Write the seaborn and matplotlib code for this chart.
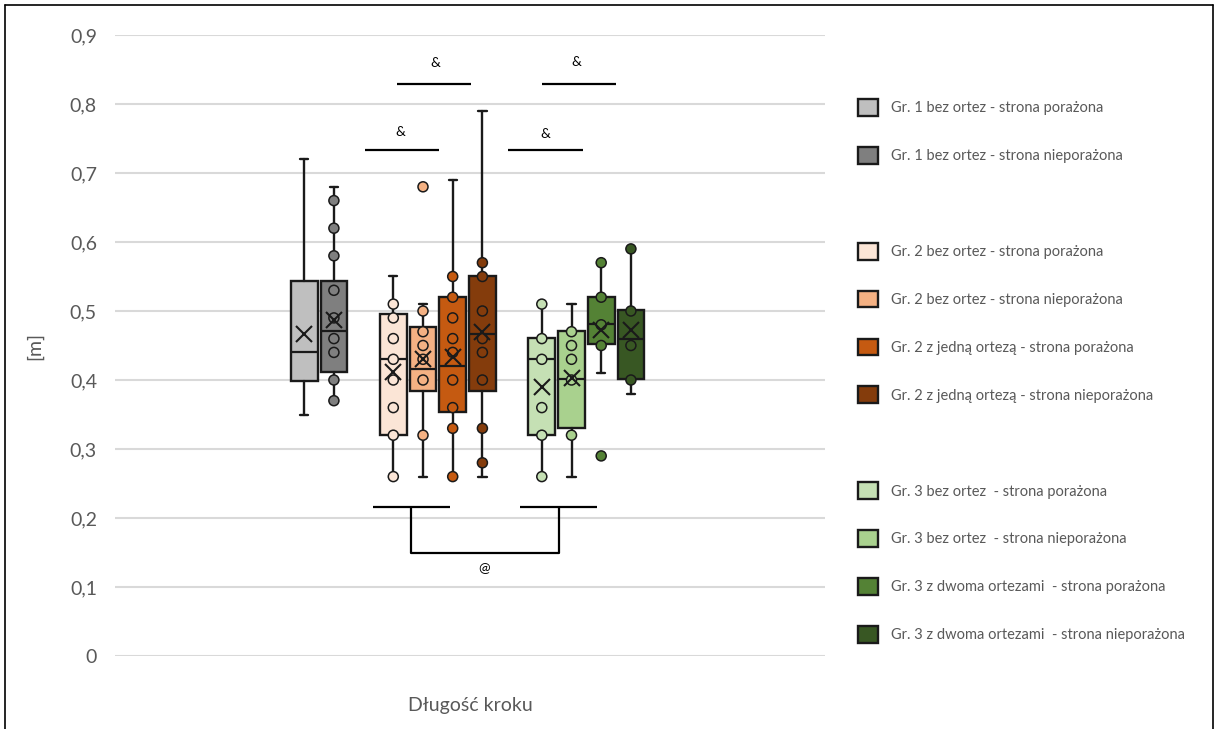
import numpy as np
import pandas as pd
import matplotlib
matplotlib.use("Agg")
import matplotlib.pyplot as plt
from matplotlib.patches import Patch
from matplotlib.lines import Line2D
import seaborn as sns

# ---- data -------------------------------------------------------------
labels = [
    "Gr. 1 bez ortez - strona porażona",
    "Gr. 1 bez ortez - strona nieporażona",
    "Gr. 2 bez ortez - strona porażona",
    "Gr. 2 bez ortez - strona nieporażona",
    "Gr. 2 z jedną ortezą - strona porażona",
    "Gr. 2 z jedną ortezą - strona nieporażona",
    "Gr. 3 bez ortez  - strona porażona",
    "Gr. 3 bez ortez  - strona nieporażona",
    "Gr. 3 z dwoma ortezami  - strona porażona",
    "Gr. 3 z dwoma ortezami  - strona nieporażona",
]
colors = ["#BFBFBF", "#7F7F7F",
          "#FBE5D6", "#F4B183", "#C55A11", "#843C0C",
          "#C5E0B4", "#A9D18E", "#548235", "#385723"]

# box statistics per series
whisker_low = [0.35, 0.37, 0.26, 0.26, 0.26, 0.26, 0.26, 0.26, 0.41, 0.38]
quartile_1 = [0.399, 0.411, 0.321, 0.384, 0.353, 0.384, 0.321, 0.331, 0.452, 0.401]
medians = [0.441, 0.471, 0.431, 0.416, 0.421, 0.466, 0.431, 0.401, 0.481, 0.460]
quartile_3 = [0.543, 0.543, 0.496, 0.477, 0.521, 0.551, 0.461, 0.471, 0.521, 0.501]
whisker_high = [0.72, 0.68, 0.55, 0.51, 0.69, 0.79, 0.51, 0.51, 0.57, 0.59]
means = [0.467, 0.487, 0.411, 0.431, 0.434, 0.470, 0.390, 0.403, 0.472, 0.472]

# individual observations shown on each box
points_g1_por = []
points_g1_niepor = [0.66, 0.62, 0.58, 0.53, 0.49, 0.46, 0.44, 0.40, 0.37]
points_g2_por = [0.51, 0.49, 0.46, 0.43, 0.40, 0.36, 0.32, 0.26]
points_g2_niepor = [0.68, 0.50, 0.47, 0.45, 0.43, 0.40, 0.32]
points_g2_orteza_por = [0.55, 0.52, 0.49, 0.46, 0.44, 0.40, 0.36, 0.33, 0.26]
points_g2_orteza_niepor = [0.57, 0.55, 0.50, 0.46, 0.44, 0.40, 0.33, 0.28]
points_g3_por = [0.51, 0.46, 0.43, 0.36, 0.32, 0.26]
points_g3_niepor = [0.47, 0.45, 0.43, 0.40, 0.32]
points_g3_ortezy_por = [0.57, 0.52, 0.48, 0.45, 0.29]
points_g3_ortezy_niepor = [0.59, 0.50, 0.45, 0.40]

y_ticks = [0.0, 0.1, 0.2, 0.3, 0.4, 0.5, 0.6, 0.7, 0.8, 0.9]
y_tick_labels = ["0", "0,1", "0,2", "0,3", "0,4", "0,5", "0,6", "0,7", "0,8", "0,9"]

# slot of each series along the single category (gaps separate the groups)
slots = [0, 1, 3, 4, 5, 6, 8, 9, 10, 11]

all_points = [points_g1_por, points_g1_niepor, points_g2_por, points_g2_niepor,
              points_g2_orteza_por, points_g2_orteza_niepor, points_g3_por,
              points_g3_niepor, points_g3_ortezy_por, points_g3_ortezy_niepor]

# ---- figure -----------------------------------------------------------
sns.set_theme(style="white")
plt.rcParams["font.family"] = ["Lato", "DejaVu Sans"]
text_grey = "#595959"
edge = "#1a1a1a"

fig = plt.figure(figsize=(12.16, 7.29), dpi=100)
W, H = 1216, 729
ax = fig.add_axes([115 / W, 1 - 656 / H, 710 / W, 621 / H])

# boxes
stats = []
for i in range(len(labels)):
    stats.append(dict(whislo=whisker_low[i], q1=quartile_1[i], med=medians[i],
                      q3=quartile_3[i], whishi=whisker_high[i], mean=means[i]))
bp = ax.bxp(stats, positions=slots, widths=0.9, capwidths=0.28, patch_artist=True,
            showfliers=False, showmeans=False,
            boxprops=dict(linewidth=1.7, edgecolor=edge),
            medianprops=dict(color=edge, linewidth=1.6),
            whiskerprops=dict(color=edge, linewidth=1.7),
            capprops=dict(color=edge, linewidth=1.7))
for patch, c in zip(bp["boxes"], colors):
    patch.set_facecolor(c)
    patch.set_zorder(2)

# observations
rows = []
for i, pts in enumerate(all_points):
    for v in pts:
        rows.append({"x": slots[i], "y": v, "series": labels[i]})
df = pd.DataFrame(rows)
sns.scatterplot(data=df, x="x", y="y", hue="series", hue_order=labels,
                palette=dict(zip(labels, colors)), s=52, edgecolor=edge,
                linewidth=1.1, legend=False, zorder=4, ax=ax)

# means
mean_df = pd.DataFrame({"x": slots, "y": means})
ax.plot(mean_df["x"], mean_df["y"], linestyle="none", marker="x", markersize=12,
        markeredgewidth=1.5, color=edge, zorder=5)

ax.set_xlabel("")
ax.set_ylabel("")
ax.set_ylim(0, 0.9)
ax.set_xlim((115 - 304.2) / 29.7, (825 - 304.2) / 29.7)
ax.set_yticks(y_ticks)
ax.set_yticklabels(y_tick_labels, color=text_grey, fontsize=14)
ax.set_xticks([])
ax.tick_params(axis="y", length=0, pad=13)
for s in ax.spines.values():
    s.set_visible(False)
ax.grid(axis="y", color="#D9D9D9", linewidth=1.5)
ax.set_axisbelow(True)

# significance markers
line_kw = dict(color="black", linewidth=1.6, solid_capstyle="butt", zorder=6)
def to_x(px):
    return (px - 304.2) / 29.7

ax.plot([to_x(397), to_x(471)], [0.829, 0.829], **line_kw)
ax.plot([to_x(542), to_x(616)], [0.829, 0.829], **line_kw)
ax.plot([to_x(365), to_x(439)], [0.733, 0.733], **line_kw)
ax.plot([to_x(508), to_x(583)], [0.733, 0.733], **line_kw)
for xp, yv in [(435, 0.860), (576, 0.861), (400, 0.760), (545, 0.757)]:
    ax.text(to_x(xp), yv, "&", ha="center", va="center", fontsize=10, color="black")

ax.plot([to_x(373), to_x(450)], [0.216, 0.216], **line_kw)
ax.plot([to_x(520), to_x(597)], [0.216, 0.216], **line_kw)
ax.plot([to_x(411), to_x(411), to_x(559), to_x(559)], [0.216, 0.149, 0.149, 0.216], **line_kw)
ax.text(to_x(484), 0.127, "@", ha="center", va="center", fontsize=10, color="black")

# axis titles
ax.text(0.5, (656 - 705) / 621, "Długość kroku", transform=ax.transAxes,
        ha="center", va="center", fontsize=14, color=text_grey)
ax.text((35 - 115) / 710, 0.5, "[m]", transform=ax.transAxes, rotation=90,
        ha="center", va="center", fontsize=14, color=text_grey)

# legend with blank rows between the groups
blank = Patch(facecolor="none", edgecolor="none")
handles, hlabels = [], []
for i, (lab, c) in enumerate(zip(labels, colors)):
    if i in (2, 6):
        handles.append(blank)
        hlabels.append(" ")
    handles.append(Patch(facecolor=c, edgecolor=edge, linewidth=1.7))
    hlabels.append(lab)
leg = fig.legend(handles, hlabels, loc="upper left",
                 bbox_to_anchor=(858 / W, 1 - 99 / H), frameon=False,
                 fontsize=10.5, handlelength=1.4, handleheight=1.4,
                 handletextpad=0.85, labelspacing=2.13, borderpad=0,
                 borderaxespad=0)
for t in leg.get_texts():
    t.set_color(text_grey)

# chart border
border_kw = dict(color="black", linewidth=1.2, transform=fig.transFigure)
fig.add_artist(Line2D([5 / W, 5 / W], [0, 1 - 5 / H], **border_kw))
fig.add_artist(Line2D([5 / W, 1213 / W], [1 - 5 / H, 1 - 5 / H], **border_kw))
fig.add_artist(Line2D([1213 / W, 1213 / W], [0, 1 - 5 / H], **border_kw))

fig.savefig("out.png", dpi=100)
